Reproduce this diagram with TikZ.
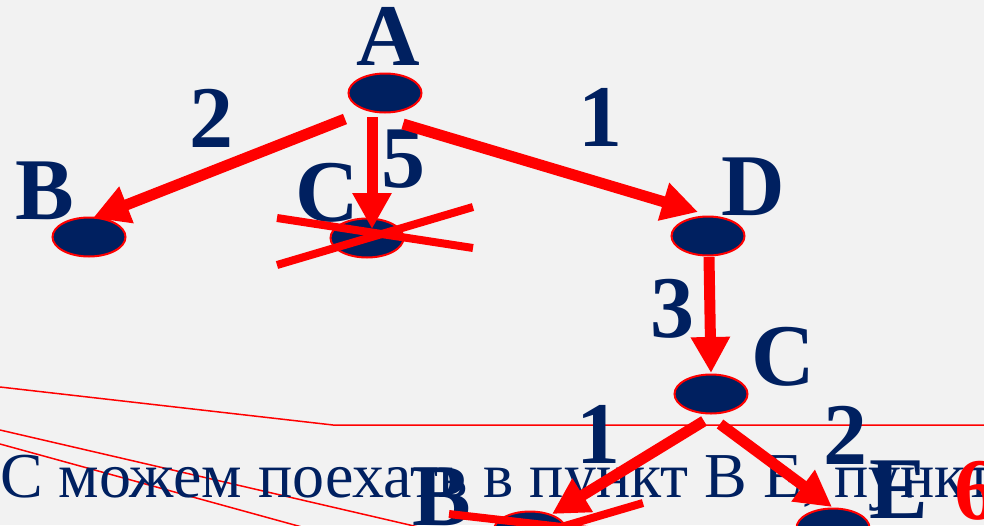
\documentclass[tikz,border=0pt]{standalone}
\usepackage{fontspec}
\setmainfont{Liberation Serif}
\usetikzlibrary{arrows.meta,shapes.geometric}
\definecolor{navy}{HTML}{002060}
\definecolor{bg}{HTML}{F2F2F2}
\begin{document}
\begin{tikzpicture}[x=1pt,y=-1pt,
  vert/.style={ellipse, minimum width=73pt, minimum height=39pt, inner sep=0pt, fill=navy, draw=red, line width=2pt},
  lab/.style={font=\fontsize{88}{88}\selectfont\bfseries, text=navy, inner sep=0pt, anchor=base},
  redlab/.style={lab, text=red},
  arr/.style={draw=red, line width=11pt, line cap=butt, -{Triangle[length=36pt,width=37pt]}},
  cross/.style={draw=red, line width=8pt, line cap=butt},
  thin/.style={draw=red, line width=1.5pt}]
\useasboundingbox (0,0) rectangle (984,525);
\clip (0,0) rectangle (984,525);
\fill[bg] (0,0) rectangle (984,525);
% thin lines
\coordinate (t1a) at (0,387);
\coordinate (t1b) at (333,425);
\coordinate (t1c) at (990,425);
\coordinate (t2a) at (0,430);
\coordinate (t2b) at (440,532);
\coordinate (t3a) at (0,444);
\coordinate (t3b) at (320,532);
\draw[thin] (t1a) -- (t1b) -- (t1c);
\draw[thin] (t2a) -- (t2b);
\draw[thin] (t3a) -- (t3b);
% sentence
\node[font=\fontsize{64}{64}\selectfont, text=navy, inner sep=0pt, anchor=base west] (txt) at (0,497) {С можем поехать в пункт В Е, пункт};
% vertices
\node[vert] (A) at (385,93) {};
\node[vert] (B) at (89,237) {};
\node[vert] (C1) at (367,238) {};
\node[vert] (D) at (708,236) {};
\node[vert] (C2) at (711,394) {};
\node[vert] (B2) at (530,531) {};
\node[vert] (E2) at (833,528) {};
% labels
\node[lab] (lA) at (388,65) {A};
\node[lab] (lB) at (45,219) {B};
\node[lab] (lC1) at (327,221) {C};
\node[lab] (lD) at (753,215) {D};
\node[lab] (lC2) at (783,385) {C};
\node[lab] (lB2) at (442,525) {B};
\node[lab] (lE2) at (899,518) {E};
\node[lab] (n2a) at (211,147) {2};
\node[lab] (n5) at (403,187) {5};
\node[lab] (n1a) at (600,146) {1};
\node[lab] (n3) at (672,337) {3};
\node[lab] (n1b) at (598,463) {1};
\node[lab] (n2b) at (845,464) {2};
\node[redlab] (n6) at (976,519) {6};
% arrow ends
\coordinate (ab1) at (345,119);
\coordinate (ab2) at (93,218);
\coordinate (ac1) at (372,117);
\coordinate (ac2) at (372,229);
\coordinate (ad1) at (403,124);
\coordinate (ad2) at (698,212);
\coordinate (dc1) at (709,257);
\coordinate (dc2) at (711,373);
\coordinate (cb1) at (704,421);
\coordinate (cb2) at (552,514);
\coordinate (ce1) at (720,424);
\coordinate (ce2) at (832,507);
\draw[arr] (ab1) -- (ab2);
\draw[arr] (ac1) -- (ac2);
\draw[arr] (ad1) -- (ad2);
\draw[arr] (dc1) -- (dc2);
\draw[arr] (cb1) -- (cb2);
\draw[arr] (ce1) -- (ce2);
% crosses
\coordinate (x1a) at (277,218);
\coordinate (x1b) at (473,248);
\coordinate (x2a) at (277,265);
\coordinate (x2b) at (473,207);
\draw[cross] (x1a) -- (x1b);
\draw[cross] (x2a) -- (x2b);
\coordinate (y1a) at (449,514);
\coordinate (y1b) at (640,536);
\coordinate (y2a) at (643,503);
\coordinate (y2b) at (449,560);
\draw[cross] (y1a) -- (y1b);
\draw[cross] (y2a) -- (y2b);
\end{tikzpicture}
\end{document}
